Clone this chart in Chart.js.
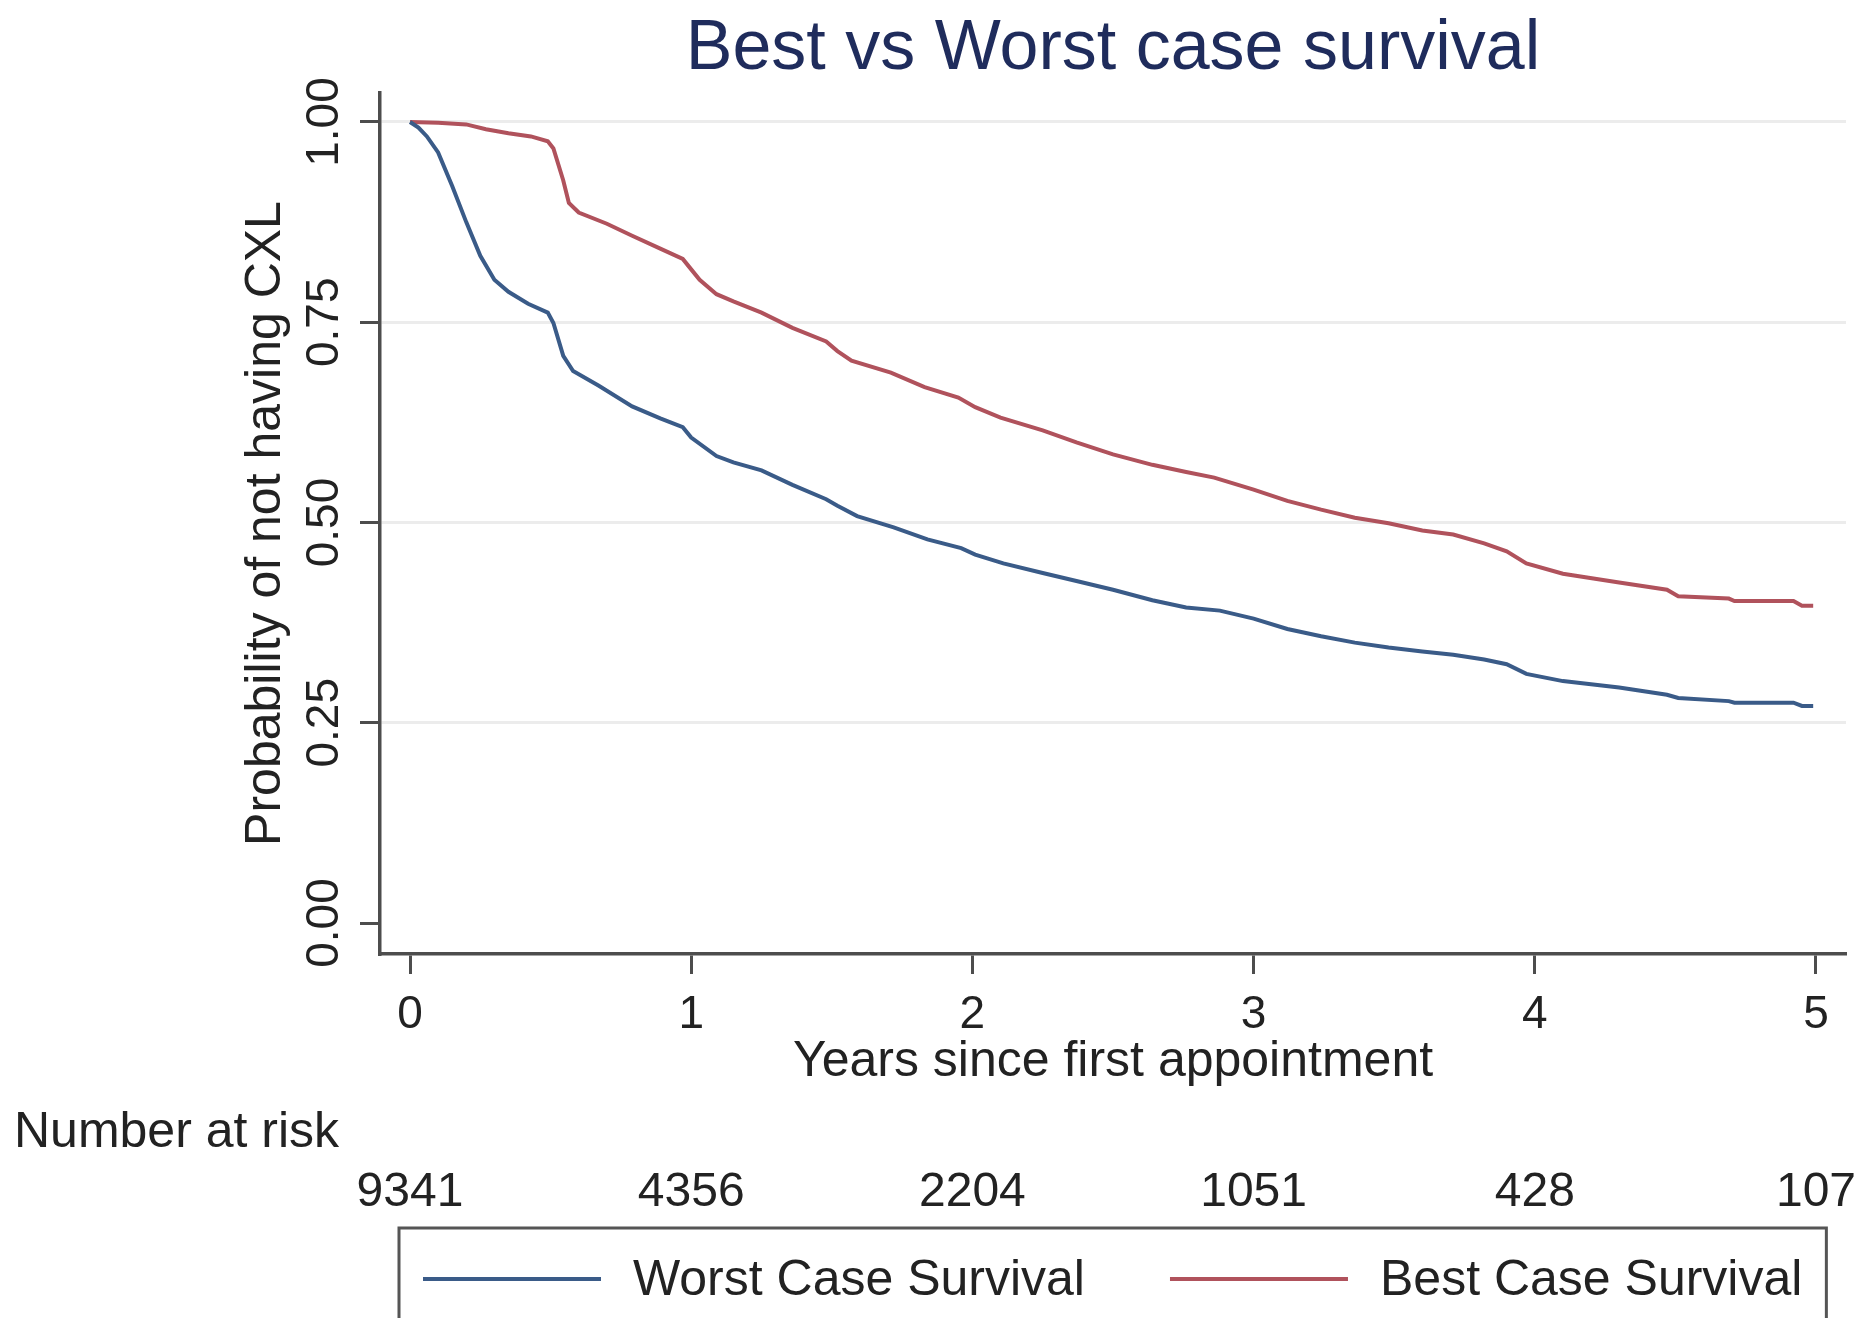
<!DOCTYPE html>
<html>
<head>
<meta charset="utf-8">
<script src="https://cdn.jsdelivr.net/npm/chart.js@4.4.1/dist/chart.umd.min.js"></script>
<style>
  html, body { margin: 0; padding: 0; background: #ffffff; }
  canvas { display: block; }
</style>
</head>
<body>
<canvas id="km" width="1864" height="1318"></canvas>
<script>
// Kaplan-Meier estimates: years since first appointment vs probability of not having CXL
const yearsWorst = [0, 0.03, 0.06, 0.1, 0.15, 0.2, 0.25, 0.3, 0.35, 0.42, 0.49, 0.51, 0.545, 0.58, 0.67, 0.79, 0.89, 0.97, 1.0, 1.09, 1.15, 1.25, 1.36, 1.48, 1.52, 1.59, 1.72, 1.84, 1.96, 2.01, 2.11, 2.25, 2.37, 2.5, 2.64, 2.76, 2.88, 3.0, 3.12, 3.24, 3.36, 3.48, 3.6, 3.71, 3.82, 3.9, 3.97, 4.1, 4.3, 4.47, 4.51, 4.69, 4.71, 4.92, 4.95, 4.99];
const survWorst  = [1.0, 0.993, 0.982, 0.962, 0.92, 0.875, 0.833, 0.803, 0.788, 0.773, 0.762, 0.749, 0.708, 0.689, 0.671, 0.645, 0.630, 0.619, 0.606, 0.583, 0.575, 0.565, 0.547, 0.529, 0.521, 0.508, 0.494, 0.479, 0.468, 0.460, 0.449, 0.437, 0.427, 0.416, 0.403, 0.394, 0.390, 0.380, 0.367, 0.358, 0.350, 0.344, 0.339, 0.335, 0.329, 0.323, 0.311, 0.302, 0.294, 0.285, 0.281, 0.277, 0.275, 0.275, 0.271, 0.271];

const yearsBest = [0, 0.1, 0.2, 0.27, 0.35, 0.43, 0.49, 0.51, 0.545, 0.565, 0.6, 0.7, 0.79, 0.89, 0.97, 1.0, 1.03, 1.09, 1.15, 1.25, 1.36, 1.48, 1.52, 1.57, 1.71, 1.83, 1.95, 2.01, 2.1, 2.25, 2.37, 2.5, 2.64, 2.76, 2.86, 3.0, 3.12, 3.24, 3.36, 3.48, 3.6, 3.71, 3.82, 3.9, 3.97, 4.1, 4.3, 4.47, 4.51, 4.69, 4.71, 4.92, 4.95, 4.99];
const survBest  = [1.0, 0.999, 0.997, 0.991, 0.986, 0.982, 0.976, 0.967, 0.927, 0.899, 0.887, 0.873, 0.858, 0.842, 0.829, 0.816, 0.803, 0.785, 0.776, 0.762, 0.743, 0.726, 0.714, 0.702, 0.687, 0.669, 0.656, 0.644, 0.631, 0.615, 0.600, 0.585, 0.572, 0.563, 0.556, 0.541, 0.527, 0.516, 0.506, 0.499, 0.490, 0.485, 0.474, 0.464, 0.449, 0.436, 0.425, 0.416, 0.408, 0.405, 0.402, 0.402, 0.396, 0.396];

const seriesLabels = ['Worst Case Survival', 'Best Case Survival'];
const xTicks = [0, 1, 2, 3, 4, 5];
const yTicks = [0, 0.25, 0.5, 0.75, 1];

// Number at risk table
const riskHeading = 'Number at risk';
const riskTimes  = [0, 1, 2, 3, 4, 5];
const riskCounts = [9341, 4356, 2204, 1051, 428, 107];

const titleText = 'Best vs Worst case survival';
const xTitle = 'Years since first appointment';
const yTitle = 'Probability of not having CXL';

const FONT = '"Liberation Sans", Arial, Helvetica, sans-serif';
const INK = '#222222';
const AXIS = '#4d4d4d';
const BLUE = '#3a5b88';
const RED = '#b0525c';

function toPoints(xs, ys) { return xs.map((x, i) => ({ x: x, y: ys[i] })); }

// Draws the number-at-risk row and the framed legend below the x axis
const riskAndLegend = {
  id: 'riskAndLegend',
  afterDraw(chart) {
    const ctx = chart.ctx;
    const xs = chart.scales.x;
    const area = chart.chartArea;
    ctx.save();

    ctx.fillStyle = INK;
    ctx.textBaseline = 'alphabetic';
    ctx.font = '50px ' + FONT;
    ctx.textAlign = 'left';
    ctx.fillText(riskHeading, 14, 1147);

    ctx.font = '48px ' + FONT;
    ctx.textAlign = 'center';
    riskTimes.forEach((t, i) => {
      ctx.fillText(String(riskCounts[i]), xs.getPixelForValue(t), 1206);
    });

    // legend frame
    ctx.font = '50px ' + FONT;
    const sample = 178, gapText = 32, gapItem = 85, inner = 24;
    const items = chart.data.datasets.map(ds => ({
      label: ds.label, color: ds.borderColor, w: ctx.measureText(ds.label).width
    }));
    let total = inner * 2 + gapItem * (items.length - 1);
    items.forEach(it => { total += sample + gapText + it.w; });
    const cx = (area.left + area.right) / 2;
    const boxLeft = Math.round(cx - total / 2);
    const boxTop = 1228;
    ctx.fillStyle = '#ffffff';
    ctx.fillRect(boxLeft, boxTop, total, 200);
    ctx.strokeStyle = '#555555';
    ctx.lineWidth = 3;
    ctx.strokeRect(boxLeft, boxTop, total, 200);

    const rowY = 1279;
    let x = boxLeft + inner;
    ctx.textAlign = 'left';
    ctx.textBaseline = 'middle';
    items.forEach(it => {
      ctx.strokeStyle = it.color;
      ctx.lineWidth = 4;
      ctx.beginPath();
      ctx.moveTo(x, rowY);
      ctx.lineTo(x + sample, rowY);
      ctx.stroke();
      x += sample + gapText;
      ctx.fillStyle = INK;
      ctx.fillText(it.label, x, rowY + 2);
      x += it.w + gapItem;
    });
    ctx.restore();
  }
};

new Chart(document.getElementById('km'), {
  type: 'line',
  data: {
    datasets: [
      { label: seriesLabels[0], data: toPoints(yearsWorst, survWorst), borderColor: BLUE, borderWidth: 4,
        pointRadius: 0, fill: false, tension: 0 },
      { label: seriesLabels[1], data: toPoints(yearsBest, survBest), borderColor: RED, borderWidth: 4,
        pointRadius: 0, fill: false, tension: 0 }
    ]
  },
  options: {
    responsive: false,
    animation: false,
    devicePixelRatio: 1,
    layout: { padding: { left: 0, right: 18, top: 0, bottom: 224 } },
    plugins: {
      legend: { display: false },
      tooltip: { enabled: false },
      title: {
        display: true, text: titleText, fullSize: false, color: '#1f2c5c',
        font: { family: FONT, size: 70, weight: 'normal', lineHeight: 1 },
        padding: { top: 15, bottom: 8 }
      }
    },
    scales: {
      x: {
        type: 'linear', min: -0.1067, max: 5.1067,
        afterBuildTicks: s => { s.ticks = xTicks.map(v => ({ value: v })); },
        afterFit: s => { s.height = 140; },
        grid: { drawOnChartArea: false, drawTicks: true, tickLength: 20, tickColor: AXIS, tickWidth: 3 },
        border: { display: true, color: AXIS, width: 3.5 },
        ticks: { color: INK, font: { family: FONT, size: 46 }, padding: 14, maxRotation: 0, autoSkip: false,
                 callback: v => String(v) },
        title: { display: true, text: xTitle, color: INK, font: { family: FONT, size: 50 }, padding: { top: 0, bottom: 2 } }
      },
      y: {
        type: 'linear', min: -0.0387, max: 1.0362,
        afterBuildTicks: s => { s.ticks = yTicks.map(v => ({ value: v })); },
        afterFit: s => { s.width = 380; },
        grid: {
          color: c => (c.tick && c.tick.value === 0) ? 'rgba(0,0,0,0)' : '#ececec',
          lineWidth: 3, drawTicks: true, tickLength: 20, tickColor: AXIS, tickWidth: 3
        },
        border: { display: true, color: AXIS, width: 3.5 },
        ticks: { color: INK, font: { family: FONT, size: 46 }, minRotation: 90, maxRotation: 90,
                 crossAlign: 'center', padding: -10, autoSkip: false, callback: v => v.toFixed(2) },
        title: { display: true, text: yTitle, color: INK, font: { family: FONT, size: 50 }, padding: { top: 236, bottom: 0 } }
      }
    }
  },
  plugins: [riskAndLegend]
});
</script>
</body>
</html>
